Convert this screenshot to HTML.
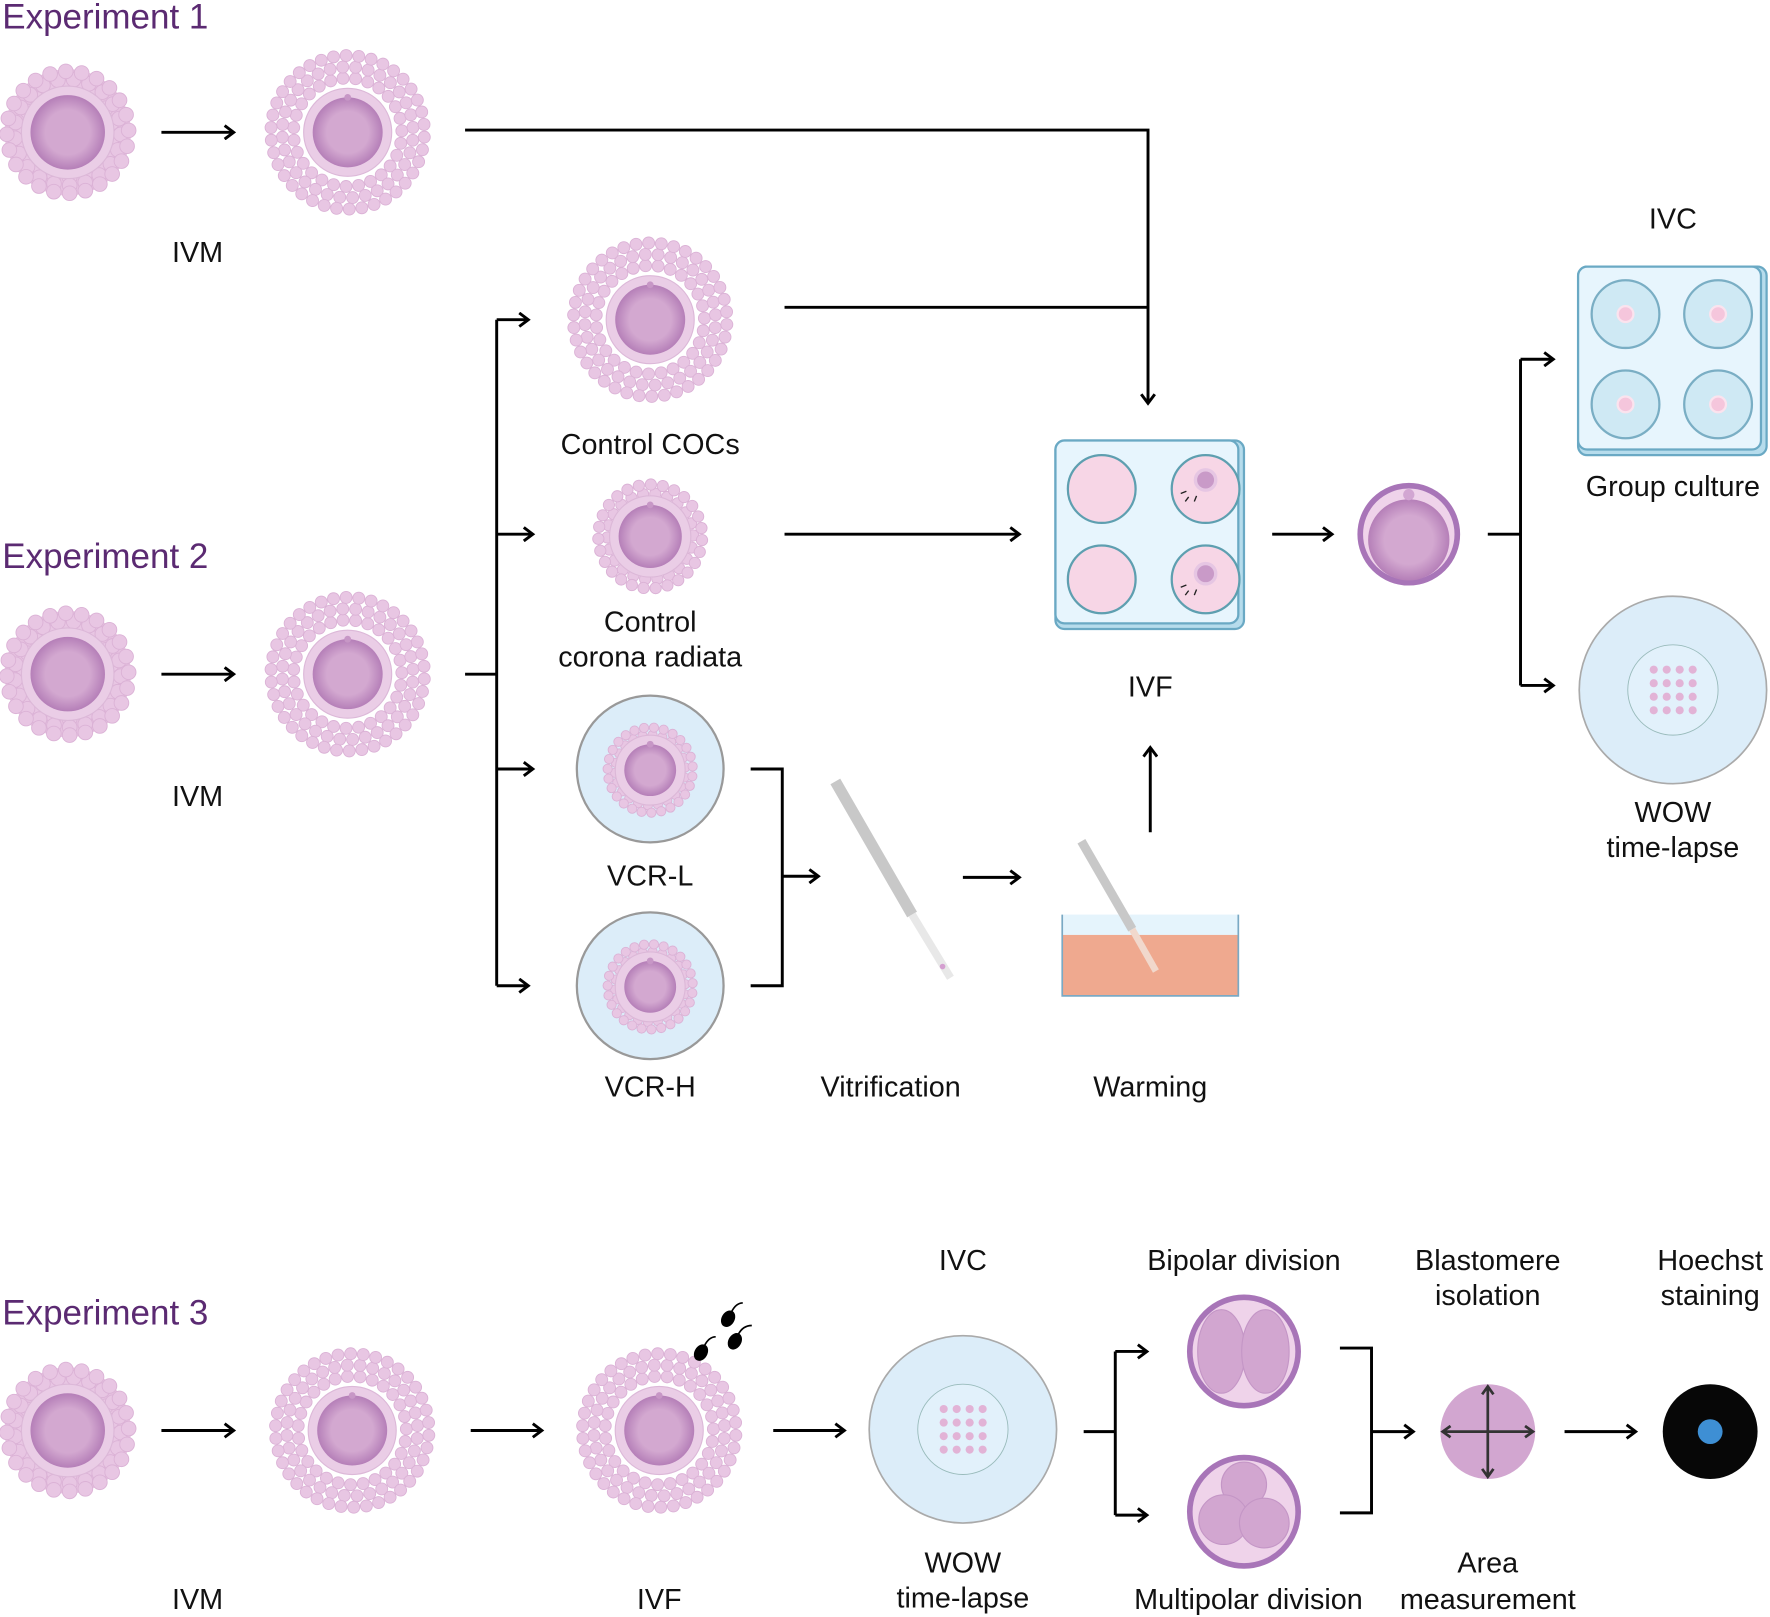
<!DOCTYPE html>
<html><head><meta charset="utf-8"><style>
html,body{margin:0;padding:0;background:#fff}
svg{display:block}
text{font-family:"Liberation Sans",sans-serif;fill:#111}
.t{font-size:25.5px;text-anchor:middle}
.h{font-size:31px;fill:#5b2a72}
.ln{stroke:#000;stroke-width:2.6;fill:none}
</style></head><body>
<svg id="s" width="1770" height="1617" viewBox="0 0 1568 1432" xmlns="http://www.w3.org/2000/svg">
<defs>
<marker id="a" markerWidth="14" markerHeight="14" refX="11" refY="7" orient="auto" markerUnits="userSpaceOnUse">
<path d="M3,1 L11,7 L3,13" fill="none" stroke="#000" stroke-width="2.6"/></marker>
<marker id="b" markerWidth="12" markerHeight="12" refX="9" refY="6" orient="auto" markerUnits="userSpaceOnUse">
<path d="M2,1 L9,6 L2,11" fill="none" stroke="#333" stroke-width="2.4"/></marker>
<radialGradient id="oo"><stop offset="0.6" stop-color="#d3a8d0"/><stop offset="1" stop-color="#b57fb8"/></radialGradient>
</defs>
<g id="cells"></g>
<text class="h" x="2" y="25">Experiment 1</text>
<text class="h" x="2" y="503">Experiment 2</text>
<text class="h" x="2" y="1173">Experiment 3</text>
<text class="t" x="175" y="232">IVM</text>
<text class="t" x="175" y="714">IVM</text>
<text class="t" x="576" y="402">Control COCs</text>
<text class="t" x="576" y="559">Control</text>
<text class="t" x="576" y="590">corona radiata</text>
<text class="t" x="576" y="784">VCR-L</text>
<text class="t" x="576" y="971">VCR-H</text>
<text class="t" x="789" y="971">Vitrification</text>
<text class="t" x="1019" y="971">Warming</text>
<text class="t" x="1019" y="617">IVF</text>
<text class="t" x="1482" y="202">IVC</text>
<text class="t" x="1482" y="439">Group culture</text>
<text class="t" x="1482" y="728">WOW</text>
<text class="t" x="1482" y="759">time-lapse</text>
<text class="t" x="175" y="1425">IVM</text>
<text class="t" x="584" y="1425">IVF</text>
<text class="t" x="853" y="1125">IVC</text>
<text class="t" x="853" y="1393">WOW</text>
<text class="t" x="853" y="1424">time-lapse</text>
<text class="t" x="1102" y="1125">Bipolar division</text>
<text class="t" x="1106" y="1425">Multipolar division</text>
<text class="t" x="1318" y="1125">Blastomere</text>
<text class="t" x="1318" y="1156">isolation</text>
<text class="t" x="1318" y="1393">Area</text>
<text class="t" x="1318" y="1425">measurement</text>
<text class="t" x="1515" y="1125">Hoechst</text>
<text class="t" x="1515" y="1156">staining</text>
<g class="ln">
<path d="M143,117 H207" marker-end="url(#a)"/>
<path d="M412,115 H1017 V357" marker-end="url(#a)"/>
<path d="M695,272 H1017"/>
<path d="M143,597 H207" marker-end="url(#a)"/>
<path d="M412,597 H440"/>
<path d="M440,283 V873"/>
<path d="M440,283 H468" marker-end="url(#a)"/>
<path d="M440,473 H472" marker-end="url(#a)"/>
<path d="M440,681 H472" marker-end="url(#a)"/>
<path d="M440,873 H468" marker-end="url(#a)"/>
<path d="M695,473 H903" marker-end="url(#a)"/>
<path d="M665,681 H693 V873 H665"/>
<path d="M693,776 H725" marker-end="url(#a)"/>
<path d="M853,777 H903" marker-end="url(#a)"/>
<path d="M1019,737 V662" marker-end="url(#a)"/>
<path d="M1127,473 H1180" marker-end="url(#a)"/>
<path d="M1318,473 H1347"/>
<path d="M1347,318 V607"/>
<path d="M1347,318 H1376" marker-end="url(#a)"/>
<path d="M1347,607 H1376" marker-end="url(#a)"/>
<path d="M143,1267 H207" marker-end="url(#a)"/>
<path d="M417,1267 H480" marker-end="url(#a)"/>
<path d="M685,1267 H748" marker-end="url(#a)"/>
<path d="M960,1268 H988"/>
<path d="M988,1197 V1342"/>
<path d="M988,1197 H1016" marker-end="url(#a)"/>
<path d="M988,1342 H1016" marker-end="url(#a)"/>
<path d="M1187,1194 H1215 V1340 H1187"/>
<path d="M1215,1268 H1252" marker-end="url(#a)"/>
<path d="M1386,1268 H1449" marker-end="url(#a)"/>
</g>
<circle cx="576" cy="681" r="65" fill="#dcedf9" stroke="#999" stroke-width="2"/>
<circle cx="576" cy="873" r="65" fill="#dcedf9" stroke="#999" stroke-width="2"/>
<g id="cells2"></g>
<line x1="740" y1="692" x2="808" y2="810" stroke="#c8c8c8" stroke-width="10"/>
<line x1="808" y1="810" x2="842" y2="866" stroke="#e8e8e8" stroke-width="7"/>
<circle cx="835" cy="856" r="2.5" fill="#d49fd0"/>
<rect x="941" y="810" width="156" height="18" fill="#e5f4fc"/>
<rect x="941" y="828" width="156" height="54" fill="#efa98f"/>
<path d="M941,810 V882 H1097 V810" fill="none" stroke="#7aa9c4" stroke-width="1.5"/>
<line x1="958" y1="745" x2="1003" y2="823" stroke="#c8c8c8" stroke-width="8"/>
<line x1="1003" y1="823" x2="1024" y2="860" stroke="#f1d8cc" stroke-width="6"/>
<rect x="935" y="390" width="167" height="167" rx="8" fill="#b6dcec" stroke="#6aa9c4" stroke-width="2"/>
<rect x="935" y="390" width="162" height="162" rx="8" fill="#e7f5fd" stroke="#6aa9c4" stroke-width="2"/>
<g fill="#f7d6e6" stroke="#5e9fb0" stroke-width="2">
<circle cx="976" cy="433" r="30"/><circle cx="1068" cy="433" r="30"/>
<circle cx="976" cy="513" r="30"/><circle cx="1068" cy="513" r="30"/></g>
<g fill="#c99ac8" stroke="#e6c6e3" stroke-width="3"><circle cx="1068" cy="425" r="9"/><circle cx="1068" cy="508" r="9"/></g>
<g stroke="#222" stroke-width="1.2"><path d="M1046,437 l5,-2 M1050,444 l3,-4 M1058,444 l2,-5 M1046,520 l5,-2 M1050,527 l3,-4 M1058,527 l2,-5"/></g>
<circle cx="1248" cy="473" r="43" fill="#efd3ea" stroke="#a875b8" stroke-width="5"/>
<circle cx="1248" cy="478" r="36" fill="url(#oo)"/>
<circle cx="1248" cy="438" r="5" fill="#d2a6d2"/>
<rect x="1398" y="236" width="167" height="167" rx="8" fill="#b6dcec" stroke="#6aa9c4" stroke-width="2"/>
<rect x="1398" y="236" width="162" height="162" rx="8" fill="#e7f5fd" stroke="#6aa9c4" stroke-width="2"/>
<g fill="#cfe9f4" stroke="#7aaec4" stroke-width="2">
<circle cx="1440" cy="278" r="30"/><circle cx="1522" cy="278" r="30"/>
<circle cx="1440" cy="358" r="30"/><circle cx="1522" cy="358" r="30"/></g>
<g fill="#f5c6dc" stroke="#fbe3ee" stroke-width="2"><circle cx="1440" cy="278" r="7"/><circle cx="1522" cy="278" r="7"/><circle cx="1440" cy="358" r="7"/><circle cx="1522" cy="358" r="7"/></g>
<g id="wow"></g>
<ellipse cx="1102" cy="1197" rx="48" ry="48" fill="#efd3ea" stroke="#a875b8" stroke-width="5"/>
<ellipse cx="1082" cy="1197" rx="21" ry="37" fill="#d2a6d0" stroke="#c496c6"/>
<ellipse cx="1121" cy="1197" rx="21" ry="37" fill="#d2a6d0" stroke="#c496c6"/>
<ellipse cx="1102" cy="1339" rx="48" ry="48" fill="#efd3ea" stroke="#a875b8" stroke-width="5"/>
<circle cx="1102" cy="1315" r="20" fill="#d2a6d0" stroke="#c496c6"/>
<circle cx="1084" cy="1346" r="22" fill="#d2a6d0" stroke="#c496c6"/>
<circle cx="1120" cy="1349" r="22" fill="#d2a6d0" stroke="#c496c6"/>
<ellipse cx="1318" cy="1268" rx="42" ry="42" fill="#d2a6d0"/>
<g stroke="#333" stroke-width="2.4">
<line x1="1318" y1="1268" x2="1318" y2="1228" marker-end="url(#b)"/>
<line x1="1318" y1="1268" x2="1318" y2="1308" marker-end="url(#b)"/>
<line x1="1318" y1="1268" x2="1278" y2="1268" marker-end="url(#b)"/>
<line x1="1318" y1="1268" x2="1358" y2="1268" marker-end="url(#b)"/>
</g>
<ellipse cx="1515" cy="1268" rx="42" ry="42" fill="#070707"/>
<circle cx="1515" cy="1268" r="11" fill="#3e8fd4"/>
<g fill="#000" stroke="#000" stroke-width="1.5">
<ellipse cx="621" cy="1198" rx="5" ry="7" transform="rotate(30 621 1198)"/><path d="M624,1192 q4,-8 10,-8" fill="none"/>
<ellipse cx="645" cy="1168" rx="5" ry="7" transform="rotate(30 645 1168)"/><path d="M648,1162 q4,-8 10,-8" fill="none"/>
<ellipse cx="651" cy="1188" rx="5" ry="7" transform="rotate(30 651 1188)"/><path d="M654,1182 q4,-8 12,-8" fill="none"/>
</g>
</svg>
<script>
var NS="http://www.w3.org/2000/svg";
function el(p,t,a){var e=document.createElementNS(NS,t);for(var k in a)e.setAttribute(k,a[k]);p.appendChild(e);return e;}
var G=document.getElementById("cells"),G2=document.getElementById("cells2");
function oocyte(g,cx,cy,r,pb){
  el(g,"circle",{cx:cx,cy:cy,r:r+8,fill:"#eacde6",stroke:"#dcb8d8","stroke-width":1});
  el(g,"circle",{cx:cx,cy:cy,r:r,fill:"url(#oo)"});
  if(pb)el(g,"circle",{cx:cx,cy:cy-r,r:3,fill:"#c797c6"});
}
function rings(g,cx,cy,r0,r1,cr,gap){
  for(var r=r0;r<=r1+0.1;r+=gap){
    var n=Math.floor(2*Math.PI*r/(cr*2.1));
    for(var i=0;i<n;i++){var a=i/n*2*Math.PI+r*0.3;
      el(g,"circle",{cx:cx+r*Math.cos(a),cy:cy+r*Math.sin(a),r:cr,fill:"#e8c6e3",stroke:"#dbb2d6","stroke-width":0.8});}
  }
}
function compact(cx,cy){
  el(G,"circle",{cx:cx,cy:cy,r:56,fill:"#e6c2e0"});
  rings(G,cx,cy,40,54,6.5,7);
  oocyte(G,cx,cy,33,false);
}
function expanded(g,cx,cy,s){
  s=s||1;
  rings(g,cx,cy,48*s,76*s,5.3*s,10*s);
  oocyte(g,cx,cy,31*s,true);
}
function corona(g,cx,cy,s){
  s=s||1;
  rings(g,cx,cy,38*s,46*s,5*s,8*s);
  oocyte(g,cx,cy,28*s,true);
}
compact(60,117);expanded(G,308,117);expanded(G,576,283);
compact(60,597);expanded(G,308,597);corona(G,576,475);
compact(60,1267);expanded(G,312,1267);expanded(G,584,1267);
corona(G2,576,682,0.82);corona(G2,576,874,0.82);
var W=document.getElementById("wow");
function wow(cx,cy){
  el(W,"circle",{cx:cx,cy:cy,r:83,fill:"#dcedf9",stroke:"#aaa","stroke-width":1.5});
  el(W,"circle",{cx:cx,cy:cy,r:40,fill:"#e2f1fb",stroke:"#9bb","stroke-width":0.8});
  for(var i=0;i<4;i++)for(var j=0;j<4;j++)
    el(W,"circle",{cx:cx-17+i*11.5,cy:cy-18+j*12,r:3.6,fill:"#e2b3d6"});
}
wow(1482,611);wow(853,1266);
</script>
</body></html>
